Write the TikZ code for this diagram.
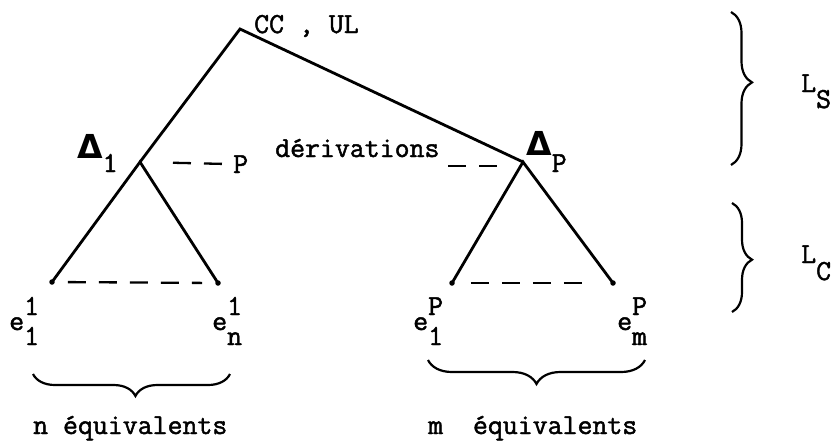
\documentclass[tikz,border=0pt]{standalone}
\usepackage{fontspec}
\setmonofont{Latin Modern Mono}[FakeBold=1.6]
\newfontfamily\deltafont{DejaVu Sans}
\usetikzlibrary{calc, decorations.pathreplacing}
\tikzset{
	% branche de l'arbre
	branche/.style={line width=2.8pt, line cap=round},
	% trait en tirets
	tiret/.style={line width=2.3pt, dash pattern=on 18pt off 13pt},
	% extremite d'une derivation
	feuille/.style={circle, fill, inner sep=0pt, minimum size=5.5pt},
	% texte pose sur sa ligne de base
	etiq/.style={anchor=base west, inner sep=0pt},
	% accolade
	accolade/.style={decorate, decoration={brace, amplitude=#1}, line width=2.2pt},
}
% lettre avec exposant et indice superposes
\newcommand{\expo}[3]{#1\rlap{\raisebox{15pt}{#2}}\raisebox{-15pt}{#3}}
% grand delta
\newcommand{\grdelta}{{\deltafont\bfseries\fontsize{33}{36}\selectfont Δ}}

\begin{document}
\begin{tikzpicture}[x=1pt, y=1pt, font=\ttfamily\fontsize{29}{34}\selectfont]
    \useasboundingbox (0,0) rectangle (837,-442);

    % sommets
    \coordinate (racine) at (240,-29);
    \coordinate (d1) at (140,-162);
    \coordinate (dp) at (523,-162);
    \node[feuille] (e11) at (52,-282) {};
    \node[feuille] (e1n) at (218,-283) {};
    \node[feuille] (ep1) at (452,-283) {};
    \node[feuille] (epm) at (613,-283) {};

    \draw[branche] (d1) -- (racine) -- (dp);
    \draw[branche] (e11.center) -- (d1) -- (e1n.center);
    \draw[branche] (ep1.center) -- (dp) -- (epm.center);

    % etiquettes
    \node[etiq] (cc) at (254,-33) {CC , UL};
    \node[etiq] (delta1) at (77,-158) {\grdelta\raisebox{-14pt}{1}};
    \node[etiq] (deltap) at (526,-155) {\grdelta\raisebox{-17pt}{P}};
    \node[etiq] (p) at (233,-173) {P};
    \node[etiq] (deriv) at (275,-157) {dérivations};

    % P derivations
    \draw[tiret, shorten <=33pt, shorten >=5pt] (d1) -- (p.west);
    \draw[tiret] ($(dp)+(-75,-4)$) -- ($(dp)+(-26,-4)$);
    \draw[tiret, shorten <=13pt, shorten >=13pt] (e11) -- (e1n);
    \draw[tiret, shorten <=16pt, shorten >=18pt] (ep1) -- (epm);

    % equivalents
    \node[etiq] (t11) at (9,-330) {\expo{e}{1}{1}};
    \node[etiq] (t1n) at (212,-330) {\expo{e}{1}{n}};
    \node[etiq] (tp1) at (413,-330) {\expo{e}{P}{1}};
    \node[etiq] (tpm) at (617,-330) {\expo{e}{P}{m}};

    \draw[accolade=22pt, decoration={aspect=0.48}] (230,-374) -- (33,-374);
    \draw[accolade=24pt, decoration={aspect=0.5}] (645,-360) -- (428,-360);
    \node[etiq] (nequiv) at (33,-434) {n équivalents};
    \node[etiq] (mequiv) at (428,-434) {m\ \ équivalents};

    % niveaux
    \draw[accolade=21pt, decoration={aspect=0.46}] (731,-12) -- (731,-165);
    \draw[accolade=20pt, decoration={aspect=0.52}] (732,-203) -- (732,-312);
    \node[etiq] (ls) at (801,-92) {L\raisebox{-16pt}{S}};
    \node[etiq] (lc) at (801,-263) {L\raisebox{-17pt}{C}};
\end{tikzpicture}
\end{document}
